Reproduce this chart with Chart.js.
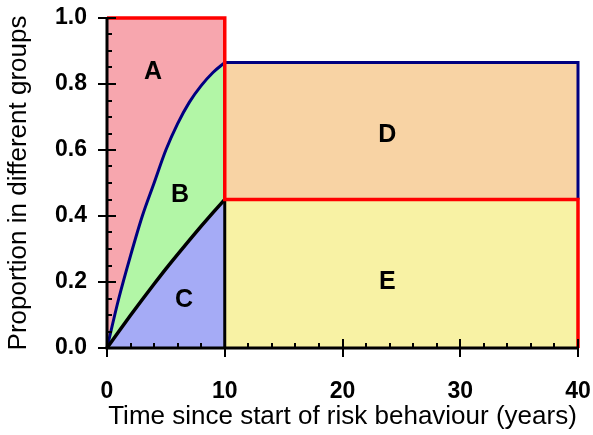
<!DOCTYPE html>
<html lang="en">
<head>
<meta charset="UTF-8">
<title>Proportion in different groups</title>
<script src="https://cdn.jsdelivr.net/npm/chart.js"></script>
<style>
    html, body { margin: 0; padding: 0; background: #fff; }
    #wrap { width: 593px; height: 435px; }
</style>
</head>
<body>
<div id="wrap"><canvas id="groupChart" width="593" height="435"></canvas></div>
<script>
// years 0-10: the two curves that split the first ten years
const years = [0, 1, 2, 3, 4, 5, 6, 7, 8, 9, 10];
const upperCurve = [0, 0.15, 0.28, 0.40, 0.50, 0.60, 0.68, 0.745, 0.795, 0.835, 0.865];
const lowerCurve = [0, 0.05, 0.099, 0.147, 0.194, 0.24, 0.284, 0.327, 0.369, 0.41, 0.45];

// after year 10 the groups stay flat
const laterYears = [10, 40];
const levelD = [0.865, 0.865];
const levelE = [0.45, 0.45];
const levelA = [1, 1];
const firstYears = [0, 10];

// group letters and where they sit (data units)
const groupNames = ['A', 'B', 'C', 'D', 'E'];
const groupX = [3.9, 6.2, 6.55, 23.8, 23.8];
const groupY = [0.836, 0.464, 0.145, 0.645, 0.2];

const FONT = "'Liberation Sans', Arial, sans-serif";

function pts(xs, ys) {
    return xs.map((v, i) => ({ x: v, y: ys[i] }));
}

const n = years.length - 1;
const redEdge = [
    { x: firstYears[0], y: levelA[0] }, { x: firstYears[1], y: levelA[1] },
    { x: laterYears[0], y: levelE[0] }, { x: laterYears[1], y: levelE[1] },
    { x: laterYears[1], y: 0 }
];
const blueEdge = [
    { x: laterYears[0], y: levelD[0] }, { x: laterYears[1], y: levelD[1] },
    { x: laterYears[1], y: levelE[1] }
];
const blackEdge = [{ x: years[n], y: lowerCurve[n] }, { x: years[n], y: 0 }];

const axisMarks = {
    id: 'axisMarks',
    afterDatasetsDraw(chart) {
        const { ctx, scales: { x, y } } = chart;
        const x0 = x.getPixelForValue(0), x1 = x.getPixelForValue(40);
        const y0 = y.getPixelForValue(0), y1 = y.getPixelForValue(1);
        ctx.save();
        ctx.strokeStyle = '#000';
        ctx.lineWidth = 2;
        ctx.beginPath();
        for (let v = 0; v <= 40; v += 2) {
            const px = Math.round(x.getPixelForValue(v));
            const major = v % 10 === 0;
            ctx.moveTo(px, y0 + (major ? 9 : 0));
            ctx.lineTo(px, y0 - (major ? 9 : 5));
        }
        for (let k = 0; k <= 20; k++) {
            const py = Math.round(y.getPixelForValue(k * 0.05));
            const major = k % 4 === 0;
            ctx.moveTo(x0 - (major ? 9 : 0), py);
            ctx.lineTo(x0 + (major ? 9 : 5), py);
        }
        ctx.stroke();
        ctx.lineWidth = 3;
        ctx.beginPath();
        ctx.moveTo(x0, y1 - 1);
        ctx.lineTo(x0, y0);
        ctx.lineTo(x1, y0);
        ctx.stroke();

        ctx.fillStyle = '#000';
        ctx.font = 'bold 25px ' + FONT;
        ctx.textAlign = 'center';
        ctx.textBaseline = 'middle';
        groupNames.forEach((name, i) => {
            ctx.fillText(name, x.getPixelForValue(groupX[i]), y.getPixelForValue(groupY[i]));
        });
        ctx.restore();
    }
};

const line = (data, extra) => Object.assign({
    data: data,
    pointRadius: 0,
    borderWidth: 0,
    tension: 0,
    fill: false,
    clip: false
}, extra);

new Chart(document.getElementById('groupChart'), {
    type: 'line',
    data: {
        datasets: [
            line(redEdge, { borderColor: '#ff0000', borderWidth: 3.5 }),
            line(blueEdge, { borderColor: '#000080', borderWidth: 3 }),
            line(blackEdge, { borderColor: '#000000', borderWidth: 3 }),
            line(pts(years, lowerCurve), { borderColor: '#000000', borderWidth: 3.5, fill: 'origin', backgroundColor: '#a5abf6', cubicInterpolationMode: 'monotone' }),
            line(pts(years, upperCurve), { borderColor: '#000080', borderWidth: 3, fill: 'origin', backgroundColor: '#b2f6a6', cubicInterpolationMode: 'monotone' }),
            line(pts(laterYears, levelE), { fill: 'origin', backgroundColor: '#f8f2a4' }),
            line(pts(laterYears, levelD), { fill: 'origin', backgroundColor: '#f8d3a4' }),
            line(pts(firstYears, levelA), { fill: 'origin', backgroundColor: '#f7a6ae' })
        ]
    },
    options: {
        responsive: false,
        animation: false,
        devicePixelRatio: 1,
        layout: { padding: { top: 18, right: 15, left: 0, bottom: 0 } },
        plugins: {
            legend: { display: false },
            tooltip: { enabled: false }
        },
        scales: {
            x: {
                type: 'linear',
                min: 0,
                max: 40,
                grid: { display: false, drawTicks: false },
                border: { display: false },
                ticks: {
                    stepSize: 10,
                    maxRotation: 0,
                    padding: 30,
                    color: '#000',
                    font: { family: FONT, size: 23, weight: 'bold' }
                },
                title: {
                    display: true,
                    text: 'Time since start of risk behaviour (years)',
                    color: '#000',
                    font: { family: FONT, size: 26 },
                    padding: { top: 0, bottom: 3 }
                },
                afterFit(scale) {
                    scale.height = 87;
                    scale.paddingLeft = 0;
                    scale.paddingRight = 0;
                }
            },
            y: {
                min: 0,
                max: 1,
                grid: { display: false, drawTicks: false },
                border: { display: false },
                ticks: {
                    stepSize: 0.2,
                    padding: 20,
                    color: '#000',
                    font: { family: FONT, size: 23, weight: 'bold' },
                    callback: v => v.toFixed(1)
                },
                title: {
                    display: true,
                    text: 'Proportion in different groups',
                    color: '#000',
                    font: { family: FONT, size: 26 },
                    padding: { top: 3, bottom: 0 }
                },
                afterFit(scale) {
                    scale.width = 107;
                    scale.paddingTop = 0;
                    scale.paddingBottom = 0;
                }
            }
        }
    },
    plugins: [axisMarks]
});
</script>
</body>
</html>
